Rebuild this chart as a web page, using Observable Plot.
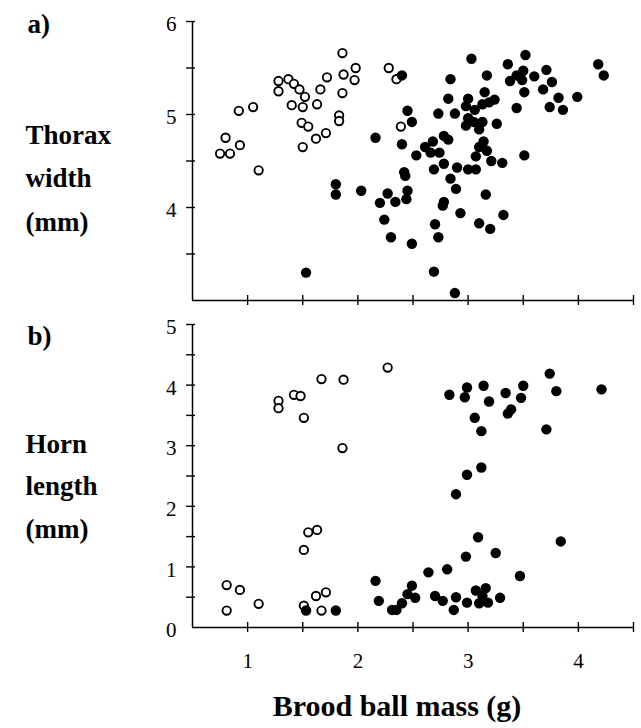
<!DOCTYPE html>
<html>
<head>
<meta charset="utf-8">
<script src="https://cdn.jsdelivr.net/npm/d3@7"></script>
<script src="https://cdn.jsdelivr.net/npm/@observablehq/plot@0.6"></script>
<style>
  html, body { margin: 0; padding: 0; background: #fff; }
  #chart svg { display: block; }
</style>
</head>
<body>
<div id="chart"></div>
<script>
// Panel a: thorax width (mm) vs brood ball mass (g)
const thoraxOpen = [
  [0.75,4.58],[0.84,4.58],[0.80,4.75],[0.93,4.67],[0.92,5.04],[1.05,5.08],[1.10,4.40],
  [1.28,5.36],[1.28,5.25],[1.37,5.38],[1.42,5.33],[1.47,5.27],[1.52,5.19],[1.40,5.10],
  [1.50,5.08],[1.49,4.91],[1.55,4.87],[1.50,4.65],[1.62,4.74],[1.71,4.80],[1.63,5.11],
  [1.66,5.27],[1.72,5.40],[1.86,5.66],[1.87,5.43],[1.86,5.23],[1.83,4.99],[1.83,4.93],
  [1.98,5.50],[1.97,5.37],[2.28,5.50],[2.35,5.38],[2.39,4.87]
];
const thoraxFilled = [
  [1.53,3.30],[1.80,4.25],[1.80,4.14],[2.03,4.18],[2.16,4.75],[2.40,5.42],
  [2.20,4.05],[2.27,4.15],[2.24,3.87],[2.30,3.68],[2.34,4.06],
  [3.03,5.60],[3.52,5.64],[3.36,5.54],[3.71,5.48],[4.18,5.54],[4.23,5.42],[2.84,5.38],
  [3.17,5.42],[3.38,5.36],[3.44,5.42],[3.50,5.47],[3.49,5.37],[3.60,5.41],[3.76,5.35],
  [3.68,5.27],[3.51,5.24],[3.82,5.18],[3.99,5.19],[3.74,5.08],[3.86,5.05],[3.44,5.07],
  [3.15,5.24],[3.00,5.17],[2.82,5.17],[2.98,5.09],[3.06,5.05],[3.13,5.11],[3.19,5.13],
  [3.24,5.16],[2.73,5.01],[2.88,5.01],[3.00,4.96],[2.98,4.88],[3.05,4.92],[3.13,4.92],
  [3.10,4.84],[3.26,4.90],[2.45,5.04],[2.49,4.92],[2.40,4.68],[2.53,4.56],[2.78,4.77],
  [2.82,4.73],[2.68,4.71],[2.61,4.65],[2.66,4.59],[2.74,4.59],[3.14,4.71],[3.10,4.65],
  [3.17,4.61],[3.07,4.55],[3.21,4.50],[3.31,4.48],[3.51,4.56],[2.78,4.47],[2.69,4.41],
  [2.90,4.43],[3.00,4.41],[3.07,4.41],[2.42,4.38],[2.43,4.34],[2.84,4.31],[2.89,4.20],
  [2.45,4.18],[2.44,4.09],[2.49,3.61],[2.78,4.06],[2.77,4.02],[3.16,4.14],[2.93,3.94],
  [2.70,3.82],[2.73,3.68],[3.10,3.83],[3.20,3.77],[3.32,3.92],[2.69,3.31],[2.88,3.08]
];
// Panel b: horn length (mm) vs brood ball mass (g)
const hornOpen = [
  [2.27,4.29],[1.67,4.10],[1.87,4.09],[1.42,3.84],[1.48,3.82],[1.28,3.74],[1.28,3.62],
  [1.51,3.46],[1.86,2.96],[1.63,1.61],[1.55,1.57],[1.51,1.28],[0.81,0.70],[0.93,0.62],
  [0.81,0.28],[1.10,0.39],[1.51,0.36],[1.62,0.52],[1.71,0.58],[1.67,0.28]
];
const hornFilled = [
  [1.53,0.28],[1.80,0.28],[2.16,0.77],[2.19,0.44],[2.31,0.29],[2.35,0.29],[2.40,0.40],
  [2.45,0.55],[2.49,0.69],[2.52,0.49],[2.64,0.91],[2.81,0.96],[2.70,0.52],[2.77,0.44],
  [2.89,0.50],[2.87,0.29],[2.99,0.41],[3.07,0.61],[3.16,0.65],[3.10,0.40],[3.18,0.41],
  [3.13,0.52],[3.29,0.49],[3.47,0.85],[2.98,1.17],[3.25,1.23],[3.09,1.49],[3.84,1.42],
  [2.89,2.20],[2.99,2.52],[3.12,2.64],[3.12,3.24],[3.71,3.27],[3.06,3.46],[3.36,3.53],
  [3.39,3.60],[3.48,3.79],[3.50,3.99],[3.19,3.73],[3.34,3.87],[2.83,3.84],[2.97,3.80],
  [2.99,3.96],[3.14,3.99],[3.74,4.19],[3.80,3.90],[4.21,3.93]
];

const xDomain = [0.5, 4.5];
const xTicks = [1, 1.5, 2, 2.5, 3, 3.5, 4, 4.5];
const xTickLabels = [1, 2, 3, 4];
const yTicksA = [3.5, 4, 4.5, 5, 5.5, 6];
const yTickLabelsA = [4, 5, 6];
const yTicksB = [0.5, 1, 1.5, 2, 2.5, 3, 3.5, 4, 4.5, 5];
const yTickLabelsB = [0, 1, 2, 3, 4, 5];
const panelLabelA = "a)";
const panelLabelB = "b)";
const yTitleA = ["Thorax", "width", "(mm)"];
const yTitleB = ["Horn", "length", "(mm)"];
const xTitle = "Brood ball mass (g)";

const FONT = "'Liberation Serif', 'Times New Roman', serif";
const W = 641, ML = 192, MR = 8;
const FRAME_W = W - ML - MR;

function sideLabels(panelLabel, lines, panelDy, firstDy, step) {
  const common = {frameAnchor: "top-left", textAnchor: "start", lineAnchor: "bottom",
                  fontWeight: "bold", fontSize: 27, fill: "black", dx: -167};
  return [
    Plot.text([panelLabel], {...common, dx: -165, dy: panelDy}),
    ...lines.map((t, i) => Plot.text([t], {...common, dy: firstDy + i * step}))
  ];
}

function dots(open, filled) {
  return [
    Plot.dot(open, {x: d => d[0], y: d => d[1], r: 4.2, stroke: "black", strokeWidth: 1.9, fill: "white"}),
    Plot.dot(filled, {x: d => d[0], y: d => d[1], r: 5.2, fill: "black", stroke: "none"})
  ];
}

// axis lines, short tick marks and y tick labels
function frameMarks(y0, yTicks, yLabels, frameH) {
  return [
    Plot.tickY(yTicks, {y: d => d, insetRight: FRAME_W - 9, dx: -6, stroke: "black", strokeWidth: 1.4}),
    Plot.tickX(xTicks, {x: d => d, insetTop: frameH - 10, dy: 5, stroke: "black", strokeWidth: 1.4}),
    Plot.ruleX([xDomain[0]], {stroke: "black", strokeWidth: 1.5}),
    Plot.ruleY([y0], {stroke: "black", strokeWidth: 1.5}),
    Plot.text(yLabels, {frameAnchor: "left", y: d => d, text: d => String(d), textAnchor: "end",
                        lineAnchor: "middle", dx: -16, dy: 3, fontSize: 21, fill: "black"})
  ];
}

const HA = 310, MTA = 21, MBA = 10;
const chartA = Plot.plot({
  width: W, height: HA,
  marginLeft: ML, marginRight: MR, marginTop: MTA, marginBottom: MBA,
  style: {fontFamily: FONT, fontSize: "21px", background: "white", overflow: "visible", color: "black"},
  x: {domain: xDomain, axis: null},
  y: {domain: [3, 6], axis: null},
  marks: [
    ...frameMarks(3, yTicksA, yTickLabelsA, HA - MTA - MBA),
    ...dots(thoraxOpen, thoraxFilled),
    ...sideLabels(panelLabelA, yTitleA, 11, 122, 43.5)
  ]
});

const HB = 418, MTB = 14, MBB = 101;
const chartB = Plot.plot({
  width: W, height: HB,
  marginLeft: ML, marginRight: MR, marginTop: MTB, marginBottom: MBB,
  style: {fontFamily: FONT, fontSize: "21px", background: "white", overflow: "visible", color: "black"},
  x: {domain: xDomain, axis: null},
  y: {domain: [0, 5], axis: null},
  marks: [
    ...frameMarks(0, yTicksB, yTickLabelsB, HB - MTB - MBB),
    Plot.text(xTickLabels, {x: d => d, y: () => 0, text: d => String(d), lineAnchor: "top", dy: 26, fontSize: 21, fill: "black"}),
    ...dots(hornOpen, hornFilled),
    ...sideLabels(panelLabelB, yTitleB, 20, 128, 42.5),
    Plot.text([xTitle], {frameAnchor: "bottom", lineAnchor: "bottom", dy: 88, dx: -16,
                         fontWeight: "bold", fontSize: 30, fill: "black"})
  ]
});

document.getElementById("chart").append(chartA, chartB);
</script>
</body>
</html>
